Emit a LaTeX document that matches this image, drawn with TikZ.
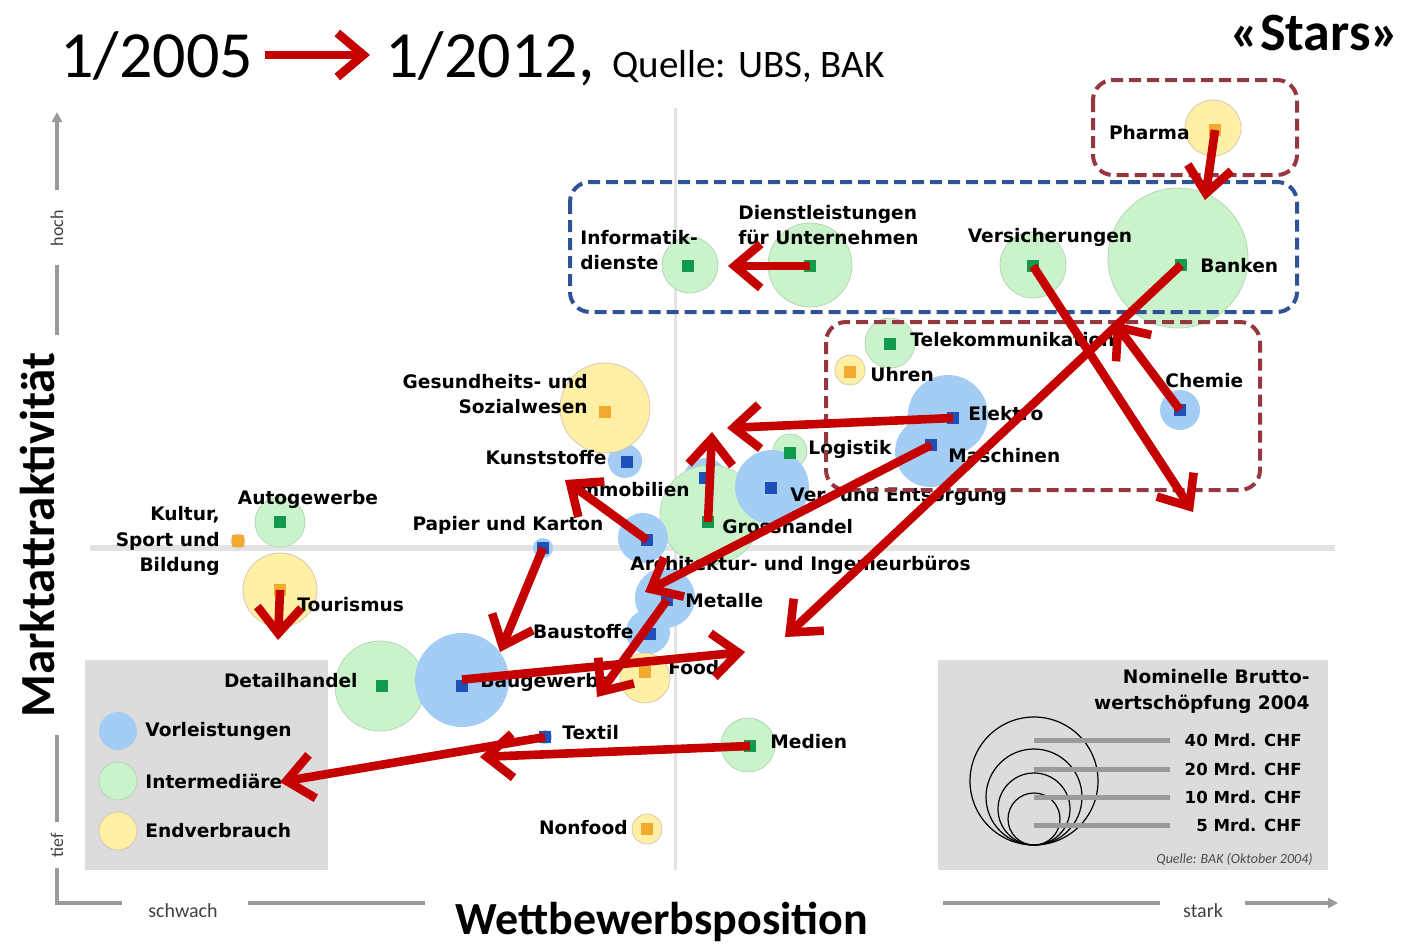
\documentclass[tikz,border=0pt]{standalone}
\usepackage{fontspec}
\setmainfont{Carlito}
\newfontfamily\lblfont{DejaVu Sans}
\usetikzlibrary{arrows.meta,positioning}

\definecolor{vlblue}{HTML}{A3CDF5}
\definecolor{imgreen}{HTML}{CBF3CB}
\definecolor{evyellow}{HTML}{FFF0A6}
\definecolor{sqblue}{HTML}{1F4FB8}
\definecolor{sqgreen}{HTML}{129A4C}
\definecolor{sqorange}{HTML}{F2A92E}
\definecolor{arrred}{HTML}{C40000}
\definecolor{boxred}{HTML}{953740}
\definecolor{boxblue}{HTML}{2F5496}
\definecolor{legray}{HTML}{DCDCDC}
\definecolor{axgray}{HTML}{9A9A9A}

\tikzset{
  vbub/.style={circle,fill=vlblue,inner sep=0pt,minimum size=#1},
  ibub/.style={circle,fill=imgreen,draw=green!30!gray!45,line width=0.4pt,inner sep=0pt,minimum size=#1},
  ebub/.style={circle,fill=evyellow,draw=orange!35!gray!45,line width=0.4pt,inner sep=0pt,minimum size=#1},
  vsq/.style={fill=sqblue,inner sep=0pt,minimum size=6pt},
  isq/.style={fill=sqgreen,inner sep=0pt,minimum size=6pt},
  esq/.style={fill=sqorange,inner sep=0pt,minimum size=6pt},
  lbl/.style={font=\lblfont\bfseries\fontsize{9.3}{12.8}\selectfont,inner sep=0pt},
  leglbl/.style={font=\lblfont\bfseries\fontsize{8.3}{12}\selectfont,inner sep=0pt},
  trend/.style={draw=arrred,line width=4.3pt,-{Straight Barb[length=13pt,width=22pt]}},
  axis/.style={draw=axgray,line width=2pt},
  groupbox/.style={rounded corners=10pt,line width=2pt,dash pattern=on 6pt off 3pt},
  cross/.style={draw=gray!22,line width=#1},
}

\begin{document}
\begin{tikzpicture}[x=0.5pt,y=-0.5pt]
  \useasboundingbox (0,0) rectangle (1408,948);

  % titel
  \node[anchor=base west,inner sep=0pt,font=\fontsize{33}{36}\selectfont] (von) at (60,77) {1/2005};
  \node[anchor=base west,inner sep=0pt,font=\fontsize{33}{36}\selectfont] (bis) at (385,77) {1/2012,};
  \node[anchor=base west,inner sep=0pt,font=\fontsize{19.5}{21}\selectfont] (quelle) at (612,77) {Quelle: UBS, BAK};
  \node[anchor=base east,inner sep=0pt,font=\bfseries\fontsize{27}{30}\selectfont] (stars) at (1400,50) {«Stars»};
  \coordinate (vonR) at (265,55);
  \coordinate (bisL) at (370,55);
  \draw[trend] (vonR) -- (bisL);

  % achsen
  \draw[cross=1.5pt] (675,108) -- (675,870);
  \draw[cross=3pt] (90,548) -- (1335,548);
  \draw[axis,-{Triangle[length=5pt,width=5pt]}] (57,190) -- (57,112);
  \draw[axis] (57,265) -- (57,335);
  \draw[axis] (57,735) -- (57,822);
  \draw[axis] (57,868) -- (57,903) -- (122,903);
  \draw[axis] (248,903) -- (425,903);
  \draw[axis] (943,903) -- (1160,903);
  \draw[axis,-{Triangle[length=5pt,width=5pt]}] (1245,903) -- (1338,903);
  \node[rotate=90,font=\fontsize{9}{10}\selectfont,text=black!75] (hoch) at (57,228) {hoch};
  \node[rotate=90,font=\fontsize{9}{10}\selectfont,text=black!75] (tief) at (57,845) {tief};
  \node[font=\fontsize{10}{11}\selectfont,text=black!75] (schwach) at (183,911) {schwach};
  \node[font=\fontsize{10}{11}\selectfont,text=black!75] (stark) at (1203,911) {stark};
  \node[rotate=90,font=\bfseries\fontsize{24.5}{26}\selectfont] (ytitle) at (37,535) {Marktattraktivität};
  \node[anchor=base,inner sep=0pt,font=\bfseries\fontsize{23}{25}\selectfont] (xtitle) at (662,934) {Wettbewerbsposition};

  % legenden
  \fill[legray] (85,660) rectangle (328,870);
  \fill[legray] (938,660) rectangle (1328,870);
  \node[vbub=19pt] (lv) at (118,731) {};
  \node[ibub=19pt] (li) at (118,781) {};
  \node[ebub=19pt] (le) at (118,831) {};
  \node[lbl,anchor=west] (lvt) at (145,731) {Vorleistungen};
  \node[lbl,anchor=west] (lit) at (145,781) {Intermediäre};
  \node[lbl,anchor=west] (let) at (145,831) {Endverbrauch};

  \node[lbl,anchor=north east,align=right] (bws) at (1310,669) {Nominelle Brutto-\\wertschöpfung 2004};
  \node[circle,draw,line width=0.6pt,inner sep=0pt,minimum size=64pt] (c40) at (1034,781) {};
  \node[circle,draw,line width=0.6pt,inner sep=0pt,minimum size=48pt] (c20) at (1034,797) {};
  \node[circle,draw,line width=0.6pt,inner sep=0pt,minimum size=36pt] (c10) at (1034,809) {};
  \node[circle,draw,line width=0.6pt,inner sep=0pt,minimum size=26pt] (c5) at (1034,819) {};
  \foreach \y/\t in {740/40,769/20,797/10,825/5}{
    \draw[draw=axgray,line width=2.5pt] (1034,\y) -- (1170,\y);
    \node[leglbl,anchor=east] at (1302,\y) {\t\ Mrd. CHF};
  }
  \node[anchor=east,inner sep=0pt,font=\itshape\fontsize{7}{8}\selectfont,text=black!70] (bak) at (1313,859) {Quelle: BAK (Oktober 2004)};

  % intermediaere
  \node[ibub=28pt] (inf) at (690,265) {};
  \node[ibub=42pt] (dlu) at (810,265) {};
  \node[ibub=33pt] (vers) at (1033,265) {};
  \node[ibub=70pt] (bank) at (1178,258) {};
  \node[ibub=25pt] (tel) at (890,343) {};
  \node[ibub=17pt] (log) at (790,451) {};
  \node[ibub=25pt] (auto) at (280,522) {};
  \node[ibub=45pt] (det) at (380,686) {};
  \node[ibub=27pt] (med) at (748,745) {};

  % vorleistungen
  \node[vbub=40pt] (elek) at (948,415) {};
  \node[vbub=35pt] (masch) at (930,452) {};
  \node[vbub=20pt] (chem) at (1180,410) {};
  \node[vbub=22pt] (immo) at (705,480) {};
  \node[ibub=50pt] (gh) at (710,515) {};
  \node[vbub=37pt] (vue) at (772,487) {};
  \node[vbub=17pt] (kunst) at (625,461) {};
  \node[vbub=10pt] (pap) at (543,548) {};
  \node[vbub=25pt] (arch) at (643,538) {};
  \node[vbub=30pt] (met) at (665,598) {};
  \node[vbub=22pt] (baust) at (648,632) {};
  \node[vbub=47pt] (baug) at (462,680) {};
  \node[vbub=7pt] (tex) at (545,737) {};

  % endverbrauch
  \node[ebub=28pt] (pha) at (1213,128) {};
  \node[ebub=15pt] (uhr) at (850,370) {};
  \node[ebub=45pt] (ges) at (605,408) {};
  \node[ebub=7pt] (kul) at (238,541) {};
  \node[ebub=37pt] (tour) at (280,590) {};
  \node[ebub=25pt] (food) at (645,678) {};
  \node[ebub=15pt] (nonf) at (647,829) {};

  % quadrate
  \node[isq] (infsq) at (688,266) {};
  \node[isq] (dlusq) at (810,266) {};
  \node[isq] (verssq) at (1033,266) {};
  \node[isq] (banksq) at (1181,265) {};
  \node[isq] (telsq) at (890,344) {};
  \node[isq] (logsq) at (790,453) {};
  \node[isq] (ghsq) at (708,522) {};
  \node[isq] (autosq) at (280,522) {};
  \node[isq] (detsq) at (382,686) {};
  \node[isq] (medsq) at (750,746) {};
  \node[vsq] (elesq) at (953,418) {};
  \node[vsq] (massq) at (931,445) {};
  \node[vsq] (chesq) at (1180,410) {};
  \node[vsq] (vuesq) at (771,488) {};
  \node[vsq] (immsq) at (705,478) {};
  \node[vsq] (kunsq) at (627,462) {};
  \node[vsq] (papsq) at (543,548) {};
  \node[vsq] (arcsq) at (647,540) {};
  \node[vsq] (metsq) at (667,600) {};
  \node[vsq] (bstsq) at (650,634) {};
  \node[vsq] (bgwsq) at (462,686) {};
  \node[vsq] (texsq) at (545,737) {};
  \node[esq] (phasq) at (1215,130) {};
  \node[esq] (uhrsq) at (850,372) {};
  \node[esq] (gessq) at (605,412) {};
  \node[esq] (kulsq) at (238,541) {};
  \node[esq] (toursq) at (280,590) {};
  \node[esq] (foodsq) at (645,672) {};
  \node[esq] (nonsq) at (647,829) {};

  % beschriftungen
  \node[lbl,anchor=west,align=left] at (580,250) {Informatik-\\dienste};
  \node[lbl,anchor=west,align=left] at (738,225) {Dienstleistungen\\für Unternehmen};
  \node[lbl] at (1050,237) {Versicherungen};
  \node[lbl,anchor=west] at (1200,266) {Banken};
  \node[lbl,anchor=west] at (910,340) {Telekommunikation};
  \node[lbl,anchor=west] at (808,449) {Logistik};
  \node[lbl,anchor=west] at (722,527) {Grosshandel};
  \node[lbl] at (308,499) {Autogewerbe};
  \node[lbl,anchor=east] at (358,681) {Detailhandel};
  \node[lbl,anchor=west] at (770,742) {Medien};
  \node[lbl,anchor=west] at (968,414) {Elektro};
  \node[lbl,anchor=west] at (948,456) {Maschinen};
  \node[lbl,anchor=west] at (1165,381) {Chemie};
  \node[lbl,anchor=west] at (790,496) {Ver- und Entsorgung};
  \node[lbl,anchor=east] at (690,490) {Immobilien};
  \node[lbl,anchor=east] at (607,458) {Kunststoffe};
  \node[lbl] at (508,525) {Papier und Karton};
  \node[lbl,anchor=west] at (630,565) {Architektur- und Ingenieurbüros};
  \node[lbl,anchor=west] at (685,601) {Metalle};
  \node[lbl,anchor=east] at (634,632) {Baustoffe};
  \node[lbl,anchor=west] at (480,682) {Baugewerbe};
  \node[lbl,anchor=west] at (562,733) {Textil};
  \node[lbl,anchor=east] at (1190,133) {Pharma};
  \node[lbl,anchor=west] at (870,375) {Uhren};
  \node[lbl,anchor=east,align=right] at (588,394) {Gesundheits- und\\Sozialwesen};
  \node[lbl,anchor=east,align=right] at (220,541) {Kultur,\\Sport und\\Bildung};
  \node[lbl,anchor=west] at (297,605) {Tourismus};
  \node[lbl,anchor=west] at (668,668) {Food};
  \node[lbl,anchor=east] at (628,828) {Nonfood};

  % gruppen
  \draw[groupbox,boxred] (1093,80) rectangle (1297,175);
  \draw[groupbox,boxblue] (570,182) rectangle (1297,312);
  \draw[groupbox,boxred] (826,322) rectangle (1260,490);

  % veraenderung 2005 -> 2012
  \coordinate (phaTo) at (1205,200);
  \coordinate (dluTo) at (728,266);
  \coordinate (bankTo) at (785,637);
  \coordinate (versTo) at (1193,512);
  \coordinate (chemTo) at (1114,322);
  \coordinate (elekTo) at (727,428);
  \coordinate (ghTo) at (712,432);
  \coordinate (maschTo) at (645,592);
  \coordinate (metTo) at (597,697);
  \coordinate (archTo) at (565,480);
  \coordinate (papTo) at (500,652);
  \coordinate (baugTo) at (745,652);
  \coordinate (texTo) at (280,782);
  \coordinate (medTo) at (480,757);
  \coordinate (tourTo) at (278,640);

  \draw[trend] (phasq.center) -- (phaTo);
  \draw[trend] (dlusq.center) -- (dluTo);
  \draw[trend] (banksq.center) -- (bankTo);
  \draw[trend] (verssq.center) -- (versTo);
  \draw[trend] (chesq.center) -- (chemTo);
  \draw[trend] (elesq.center) -- (elekTo);
  \draw[trend] (ghsq.center) -- (ghTo);
  \draw[trend] (massq.center) -- (maschTo);
  \draw[trend] (metsq.center) -- (metTo);
  \draw[trend] (arcsq.center) -- (archTo);
  \draw[trend] (papsq.center) -- (papTo);
  \draw[trend] (bgwsq.north) -- (baugTo);
  \draw[trend] (texsq.center) -- (texTo);
  \draw[trend] (medsq.center) -- (medTo);
  \draw[trend] (toursq.center) -- (tourTo);
\end{tikzpicture}
\end{document}
